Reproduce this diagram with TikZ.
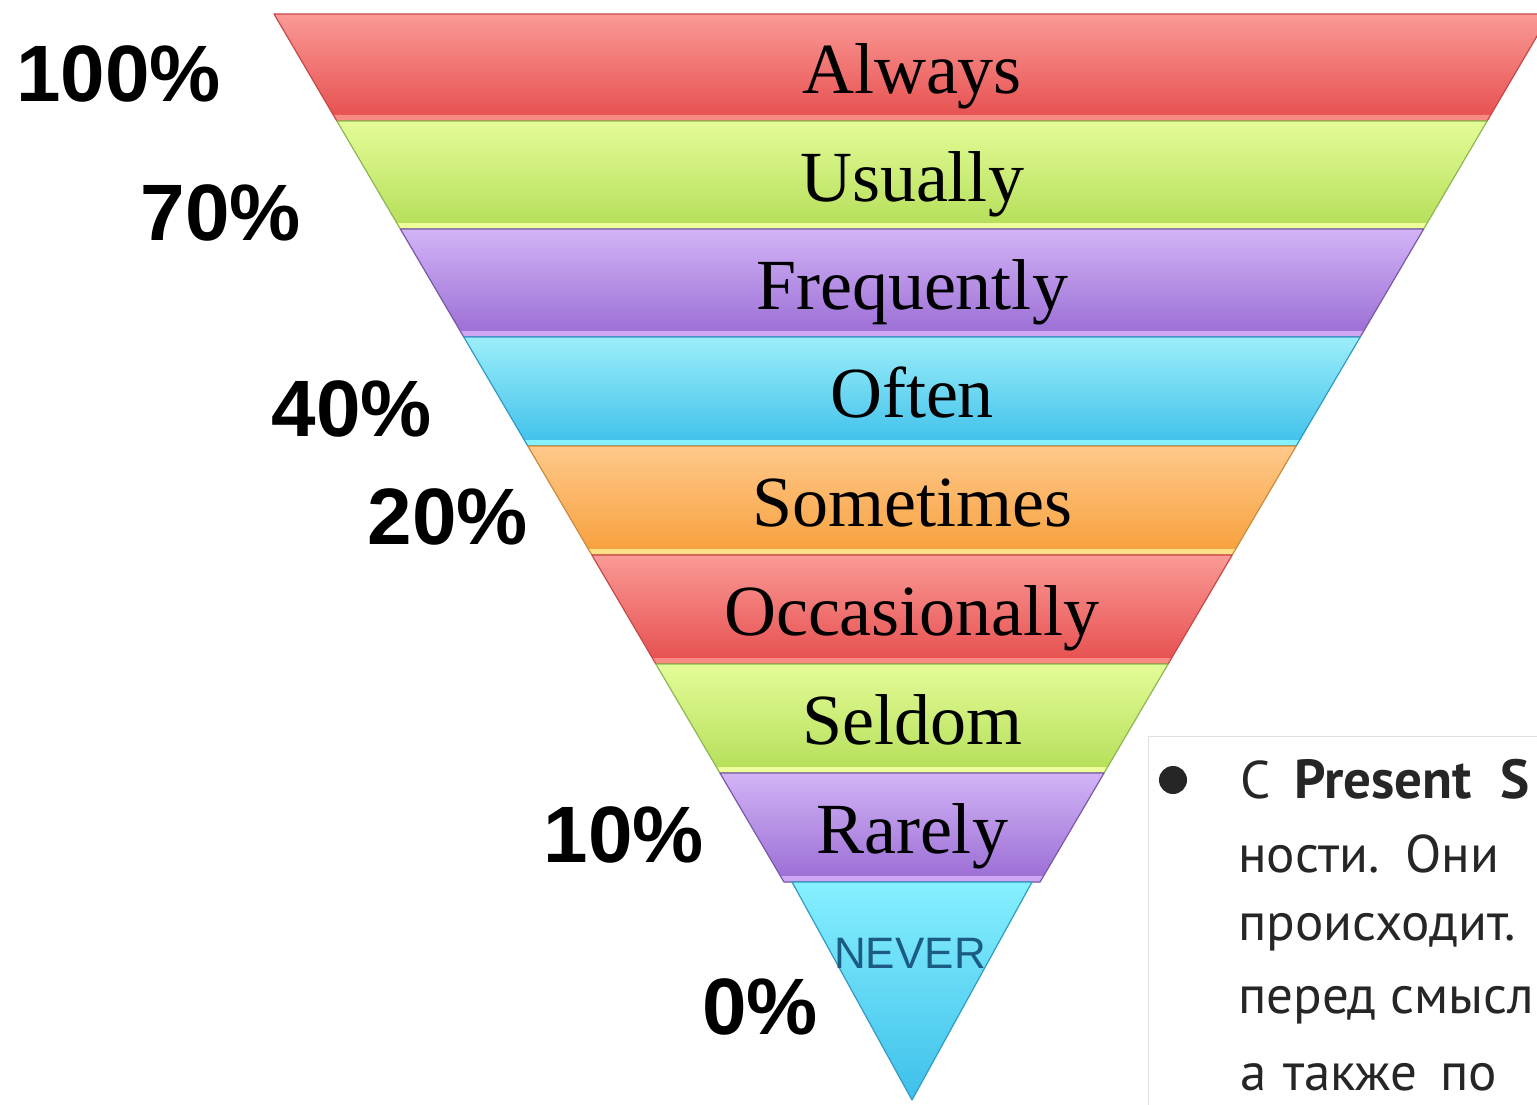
\documentclass[tikz,border=0pt]{standalone}
\usepackage{fontspec}
\setmainfont{Liberation Serif}
\newfontfamily\pctfont{Liberation Sans}
\newfontfamily\rufont{PT Sans}
\definecolor{redT}{HTML}{FA9A96}
\definecolor{redB}{HTML}{E64E4E}
\definecolor{redS}{HTML}{F88A84}
\definecolor{redE}{HTML}{C84848}
\definecolor{grnT}{HTML}{E4FC98}
\definecolor{grnB}{HTML}{B4DE58}
\definecolor{grnS}{HTML}{EEFF9C}
\definecolor{grnE}{HTML}{8CB850}
\definecolor{purT}{HTML}{D2B4F6}
\definecolor{purB}{HTML}{9A6CD4}
\definecolor{purS}{HTML}{CDA6F4}
\definecolor{purE}{HTML}{7A58A8}
\definecolor{cynT}{HTML}{9CEEFA}
\definecolor{cynB}{HTML}{3EC0EA}
\definecolor{cynS}{HTML}{86F0FF}
\definecolor{cynE}{HTML}{2E9CC4}
\definecolor{orgT}{HTML}{FFC88A}
\definecolor{orgB}{HTML}{F7A03C}
\definecolor{orgS}{HTML}{FFE08A}
\definecolor{orgE}{HTML}{CC8A3A}
\definecolor{nevertxt}{HTML}{1C5C82}
\tikzset{
  bandtext/.style={anchor=base, inner sep=0pt, font=\fontsize{72}{80}\selectfont, text=black},
  pcttext/.style={anchor=base east, inner sep=0pt, font=\pctfont\bfseries\fontsize{80}{90}\selectfont, text=black},
  rutext/.style={anchor=base west, inner sep=0pt, font=\rufont\fontsize{53}{60}\selectfont, text=black!85},
  rubold/.style={rutext, font=\rufont\bfseries\fontsize{55}{60}\selectfont},
}
\begin{document}
\begin{tikzpicture}[x=1pt,y=-1pt]
\clip (0,0) rectangle (1537,1105);
\fill[white] (0,0) rectangle (1537,1105);
% bands
\foreach \i/\yt/\yb/\c/\txt in {1/14/121/red/Always, 2/121/229/grn/Usually, 3/229/337/pur/Frequently, 4/337/446/cyn/Often, 5/446/555/org/Sometimes, 6/555/664/red/Occasionally, 7/664/773/grn/Seldom, 8/773/882/pur/Rarely}{
  \pgfmathsetmacro\xlt{274+(\yt-14)*0.5875}
  \pgfmathsetmacro\xrt{1550-(\yt-14)*0.5875}
  \pgfmathsetmacro\xlb{274+(\yb-14)*0.5875}
  \pgfmathsetmacro\xrb{1550-(\yb-14)*0.5875}
  \pgfmathsetmacro\ys{\yb-6}
  \pgfmathsetmacro\xls{274+(\ys-14)*0.5875}
  \pgfmathsetmacro\xrs{1550-(\ys-14)*0.5875}
  \shade[top color=\c T, bottom color=\c B] (\xlt,\yt) -- (\xrt,\yt) -- (\xrb,\yb) -- (\xlb,\yb) -- cycle;
  \fill[\c S] (\xls,\ys) -- (\xrs,\ys) -- (\xrb,\yb) -- (\xlb,\yb) -- cycle;
  \draw[\c E, line width=1.2pt, line join=round] (\xlt,\yt) -- (\xrt,\yt) -- (\xrb,\yb) -- (\xlb,\yb) -- cycle;
  \node[bandtext] (band\i) at (912,\yt+80) {\txt};
}
% never triangle
\shade[top color=cynS, bottom color=cynB] (792,882) -- (1032,882) -- (912,1100) -- cycle;
\draw[cynE, line width=1.2pt, line join=round] (792,882) -- (1032,882) -- (912,1100) -- cycle;
\node[anchor=base, inner sep=0pt, font=\pctfont\fontsize{44}{50}\selectfont, text=nevertxt] (never) at (910,968) {NEVER};
% percentages
\node[pcttext] (p100) at (221,102) {100\%};
\node[pcttext] (p70) at (301,240) {70\%};
\node[pcttext] (p40) at (432,436) {40\%};
\node[pcttext] (p20) at (528,544) {20\%};
\node[pcttext] (p10) at (704,862) {10\%};
\node[pcttext] (p0) at (818,1034) {0\%};
% text box
\fill[white] (1148,736) rectangle (1537,1105);
\draw[black!12, line width=1pt] (1148,1105) -- (1148,736) -- (1537,736);
\fill[black!85] (1173,780) circle (14);
\node[rutext] (l1a) at (1240,798) {С};
\node[rubold] (l1b) at (1294,798) {Present};
\node[rubold] (l1c) at (1500,798) {S};
\node[rutext] (l2a) at (1238,872) {ности.};
\node[rutext] (l2b) at (1405,872) {Они};
\node[rutext] (l3) at (1238,940) {происходит.};
\node[rutext] (l4) at (1238,1013) {перед смысл};
\node[rutext] (l5a) at (1240,1090) {а};
\node[rutext] (l5b) at (1283,1090) {также};
\node[rutext] (l5c) at (1440,1090) {по};
\end{tikzpicture}
\end{document}
